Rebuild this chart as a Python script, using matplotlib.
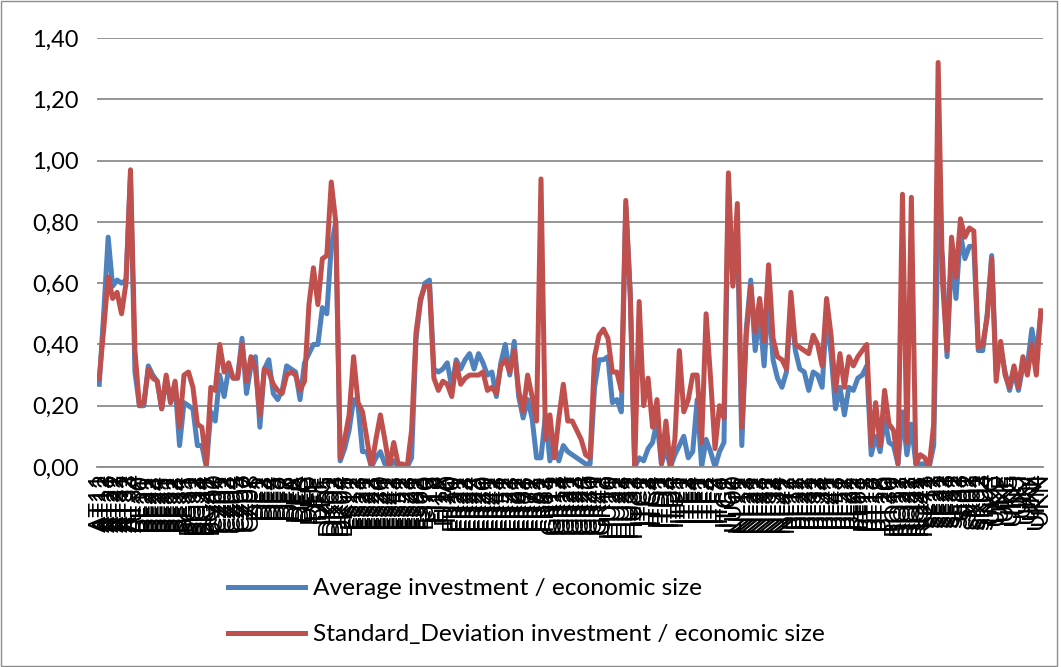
import numpy as np
import matplotlib
matplotlib.use("Agg")
import matplotlib.pyplot as plt
from matplotlib.ticker import FuncFormatter
from matplotlib.patches import Rectangle

plt.rcParams['font.family'] = ['Lato', 'DejaVu Sans']

# --- регіони (NUTS) ---
regions = (
    ["AT11", "AT12", "AT13", "AT21", "AT22", "AT31", "AT32", "AT33", "AT34"]
    + ["BE10", "BE21", "BE22", "BE23", "BE24", "BE25", "BE31", "BE32", "BE33", "BE34", "BE35"]
    + ["BG31", "BG32", "BG33", "BG34", "BG41", "BG42"]
    + ["CY00"]
    + ["CZ01", "CZ02", "CZ03", "CZ04", "CZ05", "CZ06", "CZ07", "CZ08"]
    + ["DE1", "DE2", "DE3", "DE4", "DE5", "DE6", "DE7", "DE8", "DE9", "DEA", "DEB",
       "DEC", "DED", "DEE", "DEF", "DEG"]
    + ["DK01", "DK02", "DK03", "DK04", "DK05"]
    + ["ES11", "ES12", "ES13", "ES21", "ES22", "ES23", "ES24", "ES30", "ES41", "ES42",
       "ES43", "ES51", "ES52", "ES53", "ES61", "ES62", "ES63", "ES70"]
    + ["FI13", "FI18", "FI19", "FI1A", "FI20"]
    + ["FR10", "FR21", "FR22", "FR23", "FR24", "FR25", "FR26", "FR30", "FR41", "FR42",
       "FR43", "FR51", "FR52", "FR53", "FR61", "FR62", "FR63", "FR71", "FR72", "FR81",
       "FR82", "FR83"]
    + ["GR11", "GR12", "GR13", "GR14", "GR21", "GR22", "GR23", "GR24", "GR25", "GR30",
       "GR41", "GR42", "GR43"]
    + ["HU10", "HU21", "HU22", "HU23", "HU31", "HU32", "HU33"]
    + ["ITC1", "ITC2", "ITC3", "ITC4", "ITD1", "ITD2", "ITD3", "ITD4", "ITD5", "ITE1",
       "ITE2", "ITE3", "ITE4", "ITF1", "ITF2", "ITF3", "ITF4", "ITF5", "ITF6", "ITG1", "ITG2"]
    + ["LU00"]
    + ["NL11", "NL12", "NL13", "NL21", "NL22", "NL23", "NL31", "NL32", "NL33", "NL34",
       "NL41", "NL42"]
    + ["PL11", "PL12", "PL21", "PL22", "PL31", "PL32", "PL33", "PL34", "PL41", "PL42",
       "PL43", "PL51", "PL52", "PL61", "PL62", "PL63"]
    + ["PT11", "PT15", "PT16", "PT17", "PT18", "PT20", "PT30"]
    + ["RO11", "RO12", "RO21", "RO22", "RO31", "RO32", "RO41", "RO42"]
    + ["SE11", "SE12", "SE21", "SE22", "SE23", "SE31", "SE32", "SE33"]
    + ["SI01", "SI02"]
    + ["SK01", "SK02", "SK03", "SK04"]
    + ["UKC", "UKD", "UKE", "UKF", "UKG", "UKH", "UKI", "UKJ", "UKK", "UKL", "UKM", "UKN"]
)

# --- середнє інвестицій / економічний розмір ---
avg = [
    0.27, 0.50, 0.75, 0.59, 0.61, 0.60, 0.61, 0.95, 0.31, 0.20,
    0.20, 0.33, 0.30, 0.28, 0.19, 0.29, 0.21, 0.27, 0.07, 0.21,
    0.20, 0.19, 0.07, 0.07, 0.00, 0.18, 0.15, 0.30, 0.23, 0.32,
    0.29, 0.29, 0.42, 0.24, 0.33, 0.36, 0.13, 0.32, 0.35, 0.24,
    0.22, 0.25, 0.33, 0.32, 0.31, 0.22, 0.34, 0.37, 0.40, 0.40,
    0.52, 0.50, 0.72, 0.80, 0.02, 0.06, 0.12, 0.22, 0.20, 0.05,
    0.05, 0.00, 0.03, 0.05, 0.01, 0.00, 0.02, 0.00, 0.00, 0.00,
    0.03, 0.42, 0.54, 0.60, 0.61, 0.32, 0.31, 0.32, 0.34, 0.26,
    0.35, 0.32, 0.35, 0.37, 0.32, 0.37, 0.34, 0.30, 0.31, 0.23,
    0.34, 0.40, 0.30, 0.41, 0.23, 0.16, 0.22, 0.16, 0.03, 0.03,
    0.17, 0.02, 0.07, 0.02, 0.07, 0.05, 0.04, 0.03, 0.02, 0.01,
    0.01, 0.26, 0.35, 0.35, 0.36, 0.21, 0.22, 0.18, 0.85, 0.57,
    0.00, 0.03, 0.02, 0.06, 0.08, 0.15, 0.01, 0.06, 0.00, 0.04,
    0.07, 0.10, 0.03, 0.05, 0.22, 0.00, 0.09, 0.05, 0.00, 0.05,
    0.08, 0.90, 0.60, 0.79, 0.07, 0.45, 0.61, 0.38, 0.50, 0.33,
    0.56, 0.35, 0.29, 0.26, 0.31, 0.53, 0.38, 0.32, 0.31, 0.25,
    0.31, 0.30, 0.26, 0.50, 0.37, 0.19, 0.26, 0.17, 0.26, 0.25,
    0.29, 0.30, 0.33, 0.04, 0.10, 0.05, 0.16, 0.08, 0.07, 0.01,
    0.18, 0.04, 0.14, 0.01, 0.01, 0.01, 0.00, 0.07, 0.80, 0.68,
    0.36, 0.70, 0.55, 0.76, 0.68, 0.72, 0.72, 0.38, 0.38, 0.50,
    0.69, 0.31, 0.39, 0.31, 0.25, 0.31, 0.25, 0.33, 0.33, 0.45,
    0.36, 0.50,
]

# --- стандартне відхилення ---
std = [
    0.29, 0.45, 0.62, 0.55, 0.57, 0.50, 0.60, 0.97, 0.38, 0.20,
    0.21, 0.32, 0.29, 0.28, 0.19, 0.30, 0.21, 0.28, 0.13, 0.30,
    0.31, 0.26, 0.14, 0.13, 0.01, 0.26, 0.25, 0.40, 0.31, 0.34,
    0.29, 0.29, 0.40, 0.28, 0.36, 0.32, 0.17, 0.32, 0.31, 0.27,
    0.25, 0.24, 0.30, 0.31, 0.30, 0.25, 0.28, 0.53, 0.65, 0.53,
    0.68, 0.69, 0.93, 0.80, 0.03, 0.09, 0.17, 0.36, 0.21, 0.18,
    0.09, 0.00, 0.09, 0.17, 0.09, 0.00, 0.08, 0.01, 0.01, 0.00,
    0.12, 0.44, 0.55, 0.59, 0.59, 0.29, 0.25, 0.28, 0.27, 0.23,
    0.34, 0.27, 0.29, 0.30, 0.30, 0.30, 0.31, 0.25, 0.26, 0.24,
    0.33, 0.35, 0.31, 0.38, 0.25, 0.18, 0.30, 0.23, 0.15, 0.94,
    0.09, 0.17, 0.03, 0.16, 0.27, 0.15, 0.15, 0.12, 0.09, 0.04,
    0.03, 0.36, 0.43, 0.45, 0.42, 0.31, 0.31, 0.25, 0.87, 0.56,
    0.00, 0.54, 0.20, 0.29, 0.13, 0.22, 0.01, 0.15, 0.00, 0.09,
    0.38, 0.18, 0.22, 0.30, 0.30, 0.08, 0.50, 0.29, 0.06, 0.20,
    0.16, 0.96, 0.59, 0.86, 0.13, 0.43, 0.59, 0.44, 0.55, 0.41,
    0.66, 0.42, 0.36, 0.35, 0.32, 0.57, 0.40, 0.39, 0.38, 0.37,
    0.43, 0.40, 0.33, 0.55, 0.43, 0.25, 0.37, 0.26, 0.36, 0.33,
    0.36, 0.38, 0.40, 0.07, 0.21, 0.07, 0.25, 0.14, 0.12, 0.01,
    0.89, 0.08, 0.88, 0.01, 0.04, 0.03, 0.00, 0.14, 1.32, 0.60,
    0.38, 0.75, 0.62, 0.81, 0.75, 0.78, 0.77, 0.39, 0.40, 0.49,
    0.68, 0.28, 0.41, 0.30, 0.26, 0.33, 0.26, 0.36, 0.30, 0.40,
    0.30, 0.51,
]

x = np.arange(len(regions))

fig = plt.figure(figsize=(10.61, 6.67), dpi=100)
ax = fig.add_axes([97 / 1061, 1 - 467 / 667, 946 / 1061, 429 / 667])

ax.plot(x, avg, color="#4F81BD", lw=3.6, solid_joinstyle="round",
        label="Average investment / economic size")
ax.plot(x, std, color="#C0504D", lw=3.6, solid_joinstyle="round",
        label="Standard_Deviation investment / economic size")

ax.set_xlim(-0.5, len(regions) - 0.5)
ax.set_ylim(0, 1.4)
ax.set_yticks(np.arange(0, 1.41, 0.2))
ax.yaxis.set_major_formatter(FuncFormatter(lambda v, p: f"{v:.2f}".replace(".", ",")))
ax.grid(axis="y", color="#8c8c8c", lw=1.3)
ax.set_axisbelow(True)

ax.set_xticks(x)
ax.set_xticklabels(regions, rotation=90, fontsize=17.5)
ax.tick_params(axis="x", length=0, pad=4)
ax.tick_params(axis="y", length=0, pad=13, labelsize=17)

for s in ["top", "right", "left"]:
    ax.spines[s].set_visible(False)
ax.spines["bottom"].set_color("#8c8c8c")
ax.spines["bottom"].set_linewidth(1.3)

fig.legend(loc="upper left", bbox_to_anchor=(206 / 1061, 1 - 556 / 667),
           frameon=False, fontsize=17.6, handlelength=3.15, handletextpad=0.33,
           labelspacing=1.02)

fig.patches.append(Rectangle((0.001, 0.002), 0.995, 0.996, transform=fig.transFigure,
                             fill=False, edgecolor="#8c8c8c", lw=1))

fig.savefig("out.png", dpi=100)
